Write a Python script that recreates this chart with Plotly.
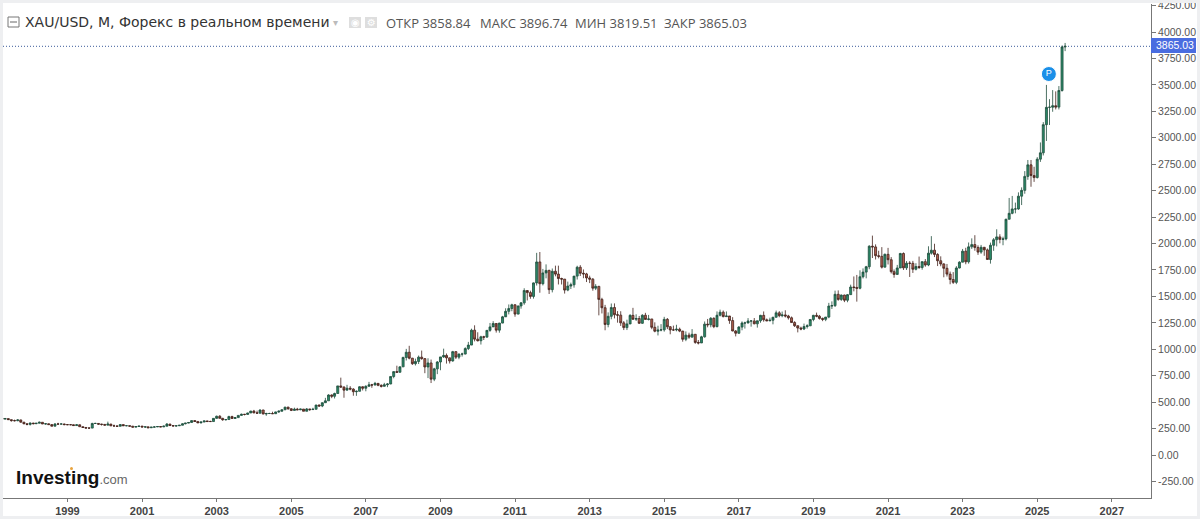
import pandas as pd
import plotly.graph_objects as go

first_open = 348
close = [340,345,335,326,325,332,311,296,290,
 303,297,301,310,294,296,288,273,294,293,294,288,
 287,287,279,286,268,261,255,255,299,299,292,290,
 283,293,276,275,272,288,277,278,273,264,270,274,
 265,267,258,264,266,270,266,273,293,279,275,277,
 282,296,302,308,326,318,304,312,323,317,317,347,
 367,347,334,336,364,346,354,375,385,384,398,416,
 399,396,426,388,393,393,391,408,415,428,453,438,
 422,434,428,435,414,436,430,433,473,464,495,513,
 568,556,582,654,643,614,632,624,599,603,646,632,
 650,664,662,678,659,650,665,672,743,789,783,834,
 923,972,916,864,885,926,912,833,871,718,815,880,
 928,942,919,890,978,926,955,955,1007,1040,1181,1096,
 1081,1118,1115,1179,1212,1244,1181,1248,1307,1359,1386,1421,
 1333,1410,1439,1556,1536,1500,1628,1826,1620,1722,1746,1564,
 1738,1711,1669,1664,1560,1598,1610,1692,1776,1719,1713,1675,
 1663,1578,1595,1472,1393,1235,1312,1395,1327,1323,1250,1205,
 1240,1321,1284,1291,1246,1322,1282,1287,1208,1171,1182,1184,
 1283,1213,1183,1183,1190,1172,1095,1134,1115,1142,1065,1060,
 1118,1238,1232,1293,1214,1322,1351,1309,1315,1272,1173,1152,
 1210,1249,1249,1268,1268,1241,1270,1321,1279,1270,1275,1303,
 1345,1318,1325,1315,1298,1253,1223,1201,1192,1215,1222,1282,
 1321,1313,1292,1283,1305,1409,1413,1520,1472,1513,1464,1517,
 1589,1585,1577,1686,1730,1781,1975,1968,1885,1879,1777,1898,
 1847,1734,1708,1769,1906,1770,1814,1813,1757,1783,1774,1829,
 1797,1909,1937,1897,1837,1807,1766,1711,1660,1633,1769,1824,
 1928,1827,1969,1990,1963,1919,1965,1940,1849,1984,2036,2063,
 2039,2044,2230,2286,2327,2327,2448,2503,2635,2744,2643,2624,
 2798,2858,3124,3288,3289,3303,3290,3447,3858.84,3865.03]
high = [348,351,346,336,335,339,335,313,298,
 307,304,302,316,312,300,298,291,302,305,300,297,
 293,292,290,293,289,266,264,260,305,305,302,295,
 293,316,295,288,280,292,290,281,278,276,273,276,
 275,271,268,265,273,273,269,279,303,295,280,280,
 284,300,303,310,327,330,320,318,326,325,325,349,
 373,378,352,341,372,372,360,376,392,389,400,418,
 427,420,432,428,400,400,410,410,421,431,456,457,
 442,448,446,438,432,445,437,447,475,478,497,541,
 575,574,590,654,732,650,664,652,632,611,651,650,
 660,692,673,692,680,669,683,680,743,790,845,838,
 930,1004,1033,919,912,941,988,915,915,903,825,889,
 928,1006,960,920,985,982,960,968,1019,1070,1195,1227,
 1161,1128,1128,1180,1249,1266,1212,1250,1316,1388,1424,1431,
 1424,1412,1447,1577,1541,1554,1632,1912,1920,1760,1803,1753,
 1764,1791,1791,1677,1664,1640,1630,1692,1790,1796,1755,1723,
 1696,1674,1616,1600,1487,1420,1349,1433,1434,1361,1360,1267,
 1280,1332,1392,1331,1315,1332,1345,1325,1287,1255,1223,1238,
 1307,1296,1219,1224,1232,1205,1175,1169,1157,1191,1144,1088,
 1128,1263,1287,1305,1303,1358,1375,1367,1358,1307,1304,1182,
 1220,1264,1261,1295,1274,1296,1270,1326,1358,1291,1299,1307,
 1366,1361,1357,1369,1326,1310,1266,1220,1214,1243,1237,1285,
 1326,1347,1325,1300,1304,1439,1453,1555,1557,1518,1516,1523,
 1611,1689,1703,1747,1765,1789,1984,2075,1992,1932,1966,1906,
 1959,1872,1755,1798,1912,1916,1834,1834,1836,1814,1877,1830,
 1853,1974,2070,1998,1909,1879,1814,1807,1735,1730,1786,1833,
 1949,1960,2010,2049,2079,1983,1987,1949,1953,2009,2052,2135,
 2088,2065,2234,2431,2450,2387,2484,2531,2685,2790,2790,2726,
 2817,2956,3148,3500,3365,3451,3439,3489,3872,3896.74]
low = [336,338,333,316,318,320,306,291,281,
 279,290,292,300,293,288,287,272,273,287,290,282,
 283,282,278,279,267,256,252,251,254,295,288,279,
 281,283,275,272,267,272,275,273,268,263,263,268,
 264,256,256,256,262,265,264,266,272,275,270,270,
 276,281,290,300,306,315,303,301,312,313,315,316,
 343,346,324,326,336,342,341,352,372,375,381,397,
 395,392,393,386,371,388,388,390,398,410,427,428,
 416,421,424,425,414,414,417,430,433,456,453,495,
 513,538,535,582,634,542,611,612,561,560,602,611,
 603,649,636,660,651,639,648,642,670,726,777,781,
 834,894,905,852,847,861,901,774,728,681,699,765,
 802,919,865,866,883,908,906,931,952,993,1043,1075,
 1074,1045,1088,1113,1166,1220,1158,1157,1246,1318,1330,1360,
 1308,1330,1384,1421,1462,1478,1479,1603,1535,1604,1671,1523,
 1538,1690,1613,1613,1527,1549,1570,1583,1660,1693,1672,1636,
 1626,1554,1560,1321,1339,1180,1208,1284,1292,1252,1221,1182,
 1182,1238,1279,1268,1240,1241,1281,1273,1190,1161,1131,1170,
 1167,1191,1142,1176,1170,1162,1072,1077,1099,1114,1052,1046,
 1061,1110,1208,1208,1200,1208,1311,1302,1305,1241,1171,1122,
 1146,1180,1196,1245,1214,1237,1205,1251,1261,1266,1264,1236,
 1302,1303,1303,1301,1281,1250,1211,1160,1180,1182,1196,1221,
 1265,1303,1281,1266,1266,1294,1381,1400,1459,1458,1446,1445,
 1517,1548,1451,1567,1670,1671,1757,1863,1849,1860,1764,1775,
 1802,1717,1677,1720,1770,1750,1750,1684,1722,1746,1759,1753,
 1781,1786,1895,1872,1787,1785,1681,1688,1615,1618,1616,1765,
 1824,1804,1810,1949,1932,1893,1903,1884,1848,1810,1931,1973,
 2002,1984,2030,2229,2277,2286,2319,2364,2471,2603,2537,2583,
 2615,2772,2833,2970,3121,3246,3268,3268,3436,3819.51]

dates = pd.date_range("1997-04-01", periods=len(close), freq="MS")
opens = [first_open] + close[:-1]

y_ticks = [-250,0,250,500,750,1000,1250,1500,1750,2000,2250,2500,2750,3000,3250,3500,3750,4000,4250]
y_labels = ["-250.00","0.00","250.00","500.00","750.00","1000.00","1250.00","1500.00","1750.00","2000.00",
            "2250.00","2500.00","2750.00","3000.00","3250.00","3500.00","3750.00","4000.00","4250.00"]
x_years = [1999,2001,2003,2005,2007,2009,2011,2013,2015,2017,2019,2021,2023,2025,2027]
last_price = 3865.03
marker_date = ["2025-04-25"]
marker_price = [3603]
title_text = "XAU/USD, M, Форекс в реальном времени"
ohlc_labels = ["ОТКР 3858.84", "МАКС 3896.74", "МИН 3819.51", "ЗАКР 3865.03"]

W, H = 1200, 519
ML, MR, MT, MB = 3, 49, 4, 21
def px(x): return (x - ML) / (W - ML - MR)
def py(y): return 1 - (y - MT) / (H - MT - MB)

fig = go.Figure()
fig.add_trace(go.Candlestick(
    x=dates, open=opens, high=high, low=low, close=close, whiskerwidth=0,
    increasing=dict(line=dict(color="#1f4d3c", width=0.8), fillcolor="#2a8a68"),
    decreasing=dict(line=dict(color="#43211b", width=0.8), fillcolor="#b0604f"),
    hoverinfo="skip", showlegend=False))
fig.add_trace(go.Scatter(
    x=marker_date, y=marker_price, mode="markers+text", text=["P"], textposition="middle center",
    textfont=dict(color="white", size=9, family="Liberation Sans"),
    marker=dict(size=15, color="#1a8fe8", line=dict(color="white", width=1)),
    hoverinfo="skip", showlegend=False))

shapes = [
    dict(type="line", xref="paper", x0=0, x1=1, yref="y", y0=last_price, y1=last_price,
         line=dict(color="#3b5a9a", width=1, dash="1px,2px"), layer="below"),
    dict(type="rect", xref="paper", yref="paper", x0=px(0), x1=px(1200), y0=py(0), y1=py(3),
         fillcolor="#eeeff1", line_width=0),
    dict(type="rect", xref="paper", yref="paper", x0=px(0), x1=px(3), y0=py(0), y1=py(519),
         fillcolor="#eeeff1", line_width=0),
    dict(type="rect", xref="paper", yref="paper", x0=px(0), x1=px(1200), y0=py(516), y1=py(519),
         fillcolor="#eeeff1", line_width=0),
    dict(type="rect", xref="paper", yref="paper", x0=px(1197), x1=px(1200), y0=py(0), y1=py(519),
         fillcolor="#eeeff1", line_width=0),
    dict(type="rect", xref="paper", yref="paper", x0=px(8), x1=px(19), y0=py(17), y1=py(27),
         fillcolor="white", line=dict(color="#777", width=1)),
    dict(type="line", xref="paper", yref="paper", x0=px(10), x1=px(17), y0=py(22), y1=py(22),
         line=dict(color="#666", width=1)),
    dict(type="rect", xref="paper", yref="paper", x0=px(349), x1=px(361), y0=py(17), y1=py(28),
         fillcolor="#dedede", line_width=0),
    dict(type="rect", xref="paper", yref="paper", x0=px(365), x1=px(377), y0=py(17), y1=py(28),
         fillcolor="#dedede", line_width=0),
    dict(type="rect", xref="paper", yref="paper", x0=px(1151), x1=px(1196), y0=py(38), y1=py(53),
         fillcolor="#4a6de0", line_width=0),
    dict(type="circle", xref="paper", yref="paper", x0=px(70), x1=px(73), y0=py(467), y1=py(470),
         fillcolor="#e8a33d", line_width=0),
]

def note(x, y, text, size, color, family="DejaVu Sans", anchor="left", **kw):
    return dict(xref="paper", yref="paper", x=px(x), y=py(y), text=text, showarrow=False,
                xanchor=anchor, yanchor="middle", font=dict(size=size, color=color, family=family),
                align="left", borderpad=0, **kw)

annotations = [
    note(24, 22, title_text, 14, "#333333"),
    note(332, 22, "▾", 10, "#bbbbbb"),
    note(355, 22.5, "◉", 10, "#ffffff", anchor="center"),
    note(371, 22.5, "⚙", 10, "#ffffff", anchor="center"),
    note(385, 22.5, ohlc_labels[0], 13, "#555555", family="Open Sans"),
    note(479, 22.5, ohlc_labels[1], 13, "#555555", family="Open Sans"),
    note(574, 22.5, ohlc_labels[2], 13, "#555555", family="Open Sans"),
    note(663, 22.5, ohlc_labels[3], 13, "#555555", family="Open Sans"),
    note(1174.5, 45.5, f"{last_price:.2f}", 10.5, "#ffffff", family="Liberation Sans", anchor="center"),
    note(15, 477, "<b>Investing</b><span style=\"font-size:13px;color:#666\">.com</span>", 19, "#111111",
         family="Liberation Sans"),
]

fig.update_layout(
    width=W, height=H, margin=dict(l=ML, r=MR, t=MT, b=MB, autoexpand=False),
    paper_bgcolor="white", plot_bgcolor="white", showlegend=False, boxgap=0,
    hovermode=False, shapes=shapes, annotations=annotations,
    xaxis=dict(
        type="date", range=["1997-04-10", "2028-01-20"], rangeslider=dict(visible=False),
        tickmode="array", tickvals=[f"{y}-01-01" for y in x_years], ticktext=[str(y) for y in x_years],
        showgrid=False, zeroline=False, showline=True, linecolor="#777777", linewidth=1,
        ticks="outside", ticklen=3, tickcolor="#777777",
        tickfont=dict(size=11, color="#444444", family="Liberation Sans", weight="bold")),
    yaxis=dict(
        side="right", range=[-406, 4265], tickmode="array", tickvals=y_ticks, ticktext=y_labels,
        showgrid=False, zeroline=False, showline=True, linecolor="#777777", linewidth=1,
        ticks="outside", ticklen=4, tickcolor="#777777", ticklabeloverflow="allow",
        tickfont=dict(size=10.5, color="#555555", family="Liberation Sans")),
)

fig.write_html("out.html", config=dict(displayModeBar=False),
               post_script="document.body.style.margin='0';document.body.style.overflow='hidden';")
